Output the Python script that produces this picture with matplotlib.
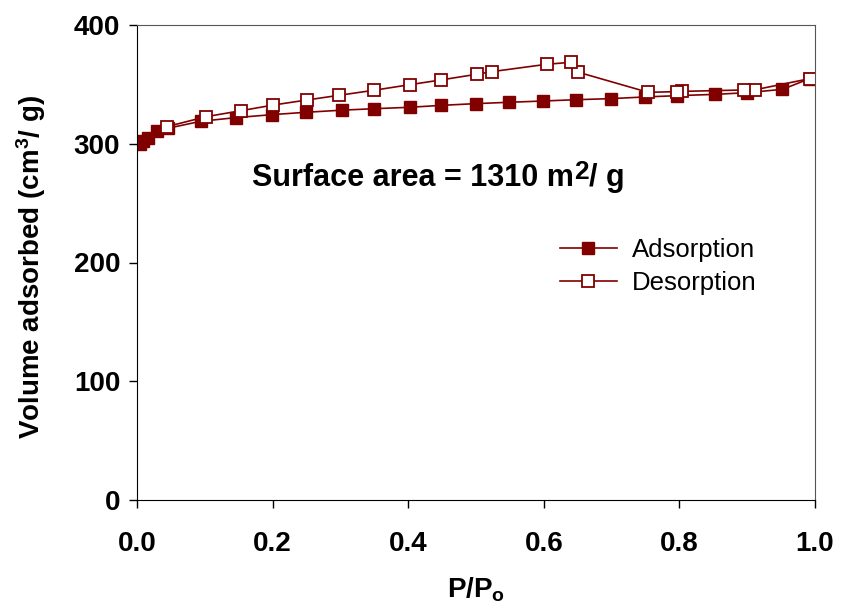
import matplotlib
matplotlib.use('Agg')
import matplotlib.pyplot as plt

# nitrogen isotherm
ads_p = [0.004, 0.009, 0.016, 0.03, 0.045, 0.095, 0.146, 0.199, 0.249, 0.303, 0.349,
         0.402, 0.448, 0.5, 0.548, 0.599, 0.648, 0.699, 0.749, 0.797, 0.853, 0.899,
         0.952, 0.992]
ads_v = [300, 302.5, 305, 310.5, 313, 319, 322, 324.5, 326.5, 328.3, 329.5,
         330.7, 332.3, 333.8, 334.9, 336, 337.1, 338, 339.4, 340.5, 341.6, 343,
         345.8, 354.8]

des_p = [0.992, 0.912, 0.895, 0.804, 0.796, 0.754, 0.651, 0.640, 0.604, 0.523,
         0.502, 0.448, 0.402, 0.349, 0.298, 0.250, 0.201, 0.153, 0.102, 0.044]
des_v = [354.8, 345.5, 345.3, 344.1, 343.9, 343.3, 360.2, 368.6, 366.9, 360.7,
         358.6, 353.7, 349.7, 345, 340.8, 336.8, 332.6, 327.8, 322.8, 314.4]

color = '#800000'
plt.rcParams['font.family'] = ['Liberation Sans', 'DejaVu Sans']
plt.rcParams['mathtext.fontset'] = 'custom'
plt.rcParams['mathtext.rm'] = 'Liberation Sans:bold'
plt.rcParams['mathtext.it'] = 'Liberation Sans:bold'
plt.rcParams['mathtext.bf'] = 'Liberation Sans:bold'

fig = plt.figure(figsize=(8.41, 6.11), dpi=100)
ax = fig.add_axes([137/841, 1 - 500/611, 678/841, 475/611])

ax.plot(ads_p, ads_v, '-s', color=color, lw=1.2, ms=8, mfc=color, mec=color,
        label='Adsorption')
ax.plot(des_p, des_v, '-s', color=color, lw=1.2, ms=8, mfc='white', mec=color,
        mew=1.3, label='Desorption')

ax.set_xlim(0, 1.0)
ax.set_ylim(0, 400)
ax.set_xticks([0, 0.2, 0.4, 0.6, 0.8, 1.0])
ax.set_xticklabels(['0.0', '0.2', '0.4', '0.6', '0.8', '1.0'])
ax.set_yticks([0, 100, 200, 300, 400])
ax.tick_params(direction='out', length=6, width=1, labelsize=20)
ax.tick_params(axis='x', pad=16)
ax.tick_params(axis='y', pad=6)
for lab in ax.get_xticklabels() + ax.get_yticklabels():
    lab.set_fontweight('bold')

ax.spines['left'].set_color('black')
ax.spines['bottom'].set_color('black')
ax.spines['top'].set_color('#555555')
ax.spines['right'].set_color('#555555')

ax.set_xlabel('P/P$_{\\mathrm{o}}$', fontsize=20, fontweight='bold', labelpad=14)
ax.set_ylabel('Volume adsorbed (cm$^{3}$/ g)', fontsize=20, fontweight='bold')
ax.yaxis.set_label_coords(-0.132, 0.49)

t1 = ax.text(0.17, 271, 'Surface area = 1310 m', fontsize=22, fontweight='bold',
             va='center', ha='left')
t2 = ax.annotate('2', xy=(1.0, 0.3), xycoords=t1, fontsize=19, fontweight='bold',
                 va='bottom', ha='left')
ax.annotate('/ g', xy=(1.0, 0), xycoords=(t2, t1), fontsize=22, fontweight='bold',
            va='bottom', ha='left')

ax.legend(loc='upper left', bbox_to_anchor=(0.59, 0.6), frameon=False,
          fontsize=18.5, handlelength=2.2, handletextpad=0.6, labelspacing=0.35)

fig.savefig('out.png', dpi=100)
